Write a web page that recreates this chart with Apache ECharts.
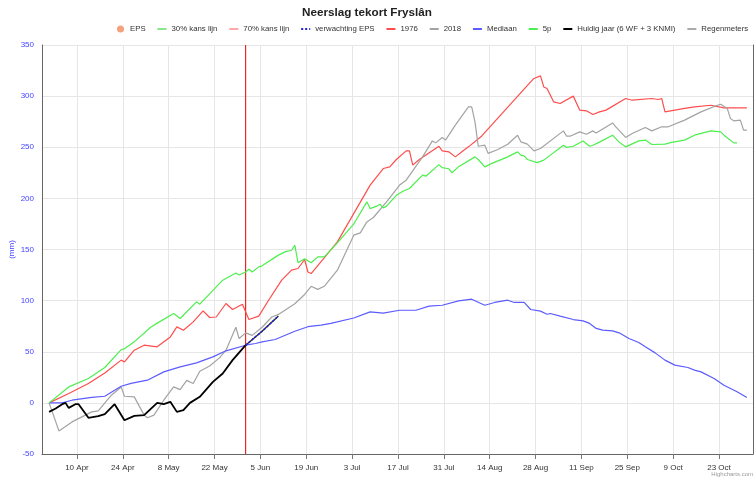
<!DOCTYPE html>
<html><head><meta charset="utf-8">
<script src="https://cdn.jsdelivr.net/npm/echarts@6/dist/echarts.min.js"></script>
<style>html,body{margin:0;padding:0;background:#fff}#c{width:756px;height:478px}</style>
</head><body><div id="c"></div>
<script>
const YEAR = 2023;
const MONTHS = ['Jan','Feb','Mar','Apr','May','Jun','Jul','Aug','Sep','Oct','Nov','Dec'];
const tickDates = ['04-10','04-24','05-08','05-22','06-05','06-19','07-03','07-17','07-31','08-14','08-28','09-11','09-25','10-09','10-23'];
const todayDate = '05-31';

const eps = [];
const kans30 = [];
const kans70 = [];
const regenmeters = [];
const epsForecast = [['05-31',56.4],['06-05',70],['06-10',85]];

const y1976 = [['04-01',0],['04-07',9.2],['04-13',19],['04-18',29.3],['04-23',41.8],['04-24',40],['04-27',51.5],['04-30',56.4],['05-04',54.8],['05-08',64.5],['05-10',74.3],['05-12',71],['05-15',79.2],['05-18',90],['05-20',83.5],['05-22',84],['05-25',97.2],['05-27',91.3],['05-30',96.5],['06-01',81.5],['06-04',84.8],['06-07',100.4],['06-11',120],['06-14',129.8],['06-16',131.4],['06-18',140.2],['06-19',128],['06-20',126.5],['06-28',157.5],['07-08',213],['07-12',229.2],['07-14',230.8],['07-16',238],['07-19',246.5],['07-20',246.5],['07-21',232.5],['07-23',238],['07-29',251],['07-30',246.5],['08-01',245.5],['08-03',240.6],['08-05',245.5],['08-07',250.4],['08-11',260.8],['08-26',314],['08-27',317.3],['08-29',319.8],['08-30',309],['08-31',307.5],['09-02',294.4],['09-04',292.8],['09-08',300],['09-10',286.3],['09-12',285.6],['09-14',282],['09-16',284.6],['09-18',286.3],['09-24',297.7],['09-26',296],['10-02',297.7],['10-04',296.7],['10-05',297.7],['10-06',284.6],['10-12',288],['10-15',289.5],['10-20',291.1],['10-24',288.5],['10-31',288.5]];

const y2018 = [['04-01',0],['04-04',-27.4],['04-08',-18.6],['04-14',-8.8],['04-16',-7.8],['04-20',7.5],['04-23',15.6],['04-24',6.5],['04-27',5.9],['04-30',-12],['05-01',-14.6],['05-03',-12],['05-06',2.6],['05-09',15.6],['05-11',13],['05-13',22],['05-15',19],['05-17',31],['05-20',36],['05-23',44],['05-25',51.5],['05-28',74],['05-29',63],['05-31',68.5],['06-02',66],['06-05',74],['06-08',84],['06-10',86.5],['06-15',97],['06-18',106],['06-20',114],['06-22',111],['06-24',114],['06-28',129.8],['07-03',164],['07-05',166.3],['07-07',177],['07-09',181.3],['07-13',196.6],['07-17',213],['07-19',217.8],['07-24',240.6],['07-27',256.2],['07-28',254.3],['07-30',259.6],['07-31',257],['08-03',271.6],['08-07',289.5],['08-08',289.5],['08-09',274.8],['08-10',251],['08-12',252],['08-13',244],['08-16',247.8],['08-19',253],['08-22',261.8],['08-23',255.3],['08-25',253],['08-27',246.5],['08-29',248.8],['09-05',266],['09-06',260.8],['09-07',260.8],['09-10',265],['09-12',262.7],['09-14',266],['09-15',264],['09-20',273.8],['09-21',270],['09-24',259.6],['09-26',263.5],['09-30',269.3],['10-02',266],['10-05',270],['10-07',270],['10-12',276.5],['10-17',284.6],['10-22',291.1],['10-23',292.1],['10-25',288],['10-26',278],['10-27',275.8],['10-29',276.5],['10-30',266.7],['10-31',266.7]];

const mediaan = [['04-01',0],['04-05',0],['04-08',2.6],['04-14',5.3],['04-18',6.5],['04-23',16.3],['04-26',19],['05-01',22.2],['05-06',30.3],['05-11',35.2],['05-16',39.1],['05-21',45],['05-25',50.9],['05-31',56.4],['06-03',58.1],['06-05',59.7],['06-09',62],['06-15',70],['06-19',74.5],['06-23',76],['06-26',77.7],['07-03',83],['07-08',89],['07-12',87.7],['07-17',90.6],['07-22',90.6],['07-26',94.6],['07-30',95.5],['08-04',99.8],['08-08',101.4],['08-12',95.5],['08-15',98.2],['08-19',100.4],['08-21',98.2],['08-24',98.2],['08-26',91.3],['08-29',89.7],['08-31',86.7],['09-01',87.4],['09-04',84.8],['09-08',81.5],['09-11',80.2],['09-13',77.7],['09-15',72.8],['09-17',71.1],['09-20',70.4],['09-22',68.5],['09-25',63],['09-28',59.1],['09-30',54.8],['10-03',48.9],['10-06',41.8],['10-09',36.9],['10-13',34.6],['10-15',32],['10-17',30.3],['10-21',23.9],['10-24',17.3],['10-28',10.8],['10-31',5.3]];

const p5 = [['04-01',0],['04-07',15.6],['04-13',23.8],['04-18',34.6],['04-23',52],['04-24',53],['04-27',59.7],['05-02',74],['05-04',78],['05-09',87.4],['05-11',82.5],['05-16',98.8],['05-17',96.5],['05-24',120],['05-28',127],['05-29',125],['05-31',128],['06-01',130.7],['06-02',128],['06-04',133],['06-05',134],['06-10',144.5],['06-12',147.7],['06-14',149.3],['06-15',154.2],['06-16',137],['06-18',141],['06-20',137],['06-22',142.8],['06-24',142.8],['06-28',156.5],['07-03',175],['07-07',196.6],['07-08',190],['07-10',192.4],['07-11',194.3],['07-12',190.7],['07-13',192.4],['07-16',203],['07-18',207],['07-20',209.7],['07-24',222.7],['07-25',221.7],['07-29',233],['07-30',230],['08-01',229],['08-02',225],['08-04',231],['08-09',240.6],['08-10',238],['08-12',230.8],['08-14',234],['08-19',240.6],['08-22',245.5],['08-23',242.3],['08-24',241.6],['08-25',238],['08-28',235],['08-30',237.4],['09-05',252],['09-06',249.8],['09-08',251],['09-11',256.2],['09-13',251],['09-14',252],['09-16',255],['09-20',261.8],['09-22',255],['09-24',250.4],['09-28',256.2],['09-30',257],['10-02',252.7],['10-06',253],['10-08',254.7],['10-12',257],['10-15',261.8],['10-20',266],['10-23',265],['10-24',261.8],['10-27',254.3],['10-28',254.3]];

const huidig = [['04-01',-8.8],['04-03',-5.5],['04-05',-1.3],['04-06',0],['04-07',-4.9],['04-09',-1.3],['04-10',-1.3],['04-13',-14.6],['04-16',-13],['04-18',-11],['04-21',-1.3],['04-24',-17],['04-27',-12.7],['04-30',-12],['05-04',0],['05-06',-1.3],['05-08',1],['05-10',-8.8],['05-12',-7.1],['05-14',0],['05-17',5.9],['05-21',20.5],['05-24',28.7],['05-27',41.8],['05-31',56.4]];

const Y_MIN = -50, Y_MAX = 350;

// x is measured in days since 30 March (UTC midnight)
const DAY = 86400000;
const ORIGIN = Date.UTC(YEAR, 2, 30);
function dayNum(md, hour) {
  const p = md.split('-').map(Number);
  return (Date.UTC(YEAR, p[0] - 1, p[1], hour) - ORIGIN) / DAY;
}
const pts = arr => arr.map(r => [dayNum(r[0], 12), r[1]]);
const tickDays = tickDates.map(d => dayNum(d, 0));
const FONT = 'Liberation Sans, Arial, sans-serif';

function lineSeries(name, data, color, width, extra) {
  return Object.assign({
    name, type: 'line', data: pts(data), showSymbol: false, symbol: 'none',
    lineStyle: { color, width }, itemStyle: { color }, emphasis: { disabled: true }
  }, extra || {});
}

const chart = echarts.init(document.getElementById('c'), null, { renderer: 'canvas' });
chart.setOption({
  animation: false,
  backgroundColor: '#fff',
  title: {
    text: 'Neerslag tekort Fryslân', left: 297, top: 2,
    textStyle: { fontSize: 11.7, fontWeight: 'bold', color: '#222', fontFamily: FONT }
  },
  legend: {
    top: 20, left: 112, width: 660, itemWidth: 9, itemHeight: 7, itemGap: 10.9,
    textStyle: { fontSize: 7.8, color: '#333', fontFamily: FONT },
    itemStyle: { opacity: 0 },
    data: [
      { name: 'EPS', icon: 'circle', itemStyle: { opacity: 1 } }, '30% kans lijn', '70% kans lijn', 'verwachting EPS', '1976', '2018',
      'Mediaan', '5p', 'Huidig jaar (6 WF + 3 KNMI)', 'Regenmeters'
    ]
  },
  grid: { left: 42, right: 3, top: 45, bottom: 24, containLabel: false, outerBoundsMode: 'none' },
  xAxis: {
    type: 'value',
    min: 0.33, max: 217.37,
    axisLine: { show: true, onZero: false, lineStyle: { color: '#666', width: 1 } },
    axisTick: { show: true, length: 5, lineStyle: { color: '#777' }, customValues: tickDays },
    axisLabel: {
      customValues: tickDays, fontSize: 8, color: '#333', margin: 10, fontFamily: FONT,
      formatter: v => { const d = new Date(ORIGIN + Math.round(v) * DAY); return d.getUTCDate() + ' ' + MONTHS[d.getUTCMonth()]; }
    },
    splitLine: { show: true, lineStyle: { color: '#e6e6e6', width: 1 } }
  },
  yAxis: [{
    type: 'value', min: Y_MIN, max: Y_MAX, interval: 50,
    name: '(mm)', nameLocation: 'middle', nameGap: 26, nameMoveOverlap: false,
    nameTextStyle: { color: '#4444ff', fontSize: 8, fontFamily: FONT },
    axisLine: { show: true, lineStyle: { color: '#666', width: 1 } },
    axisTick: { show: false },
    axisLabel: { fontSize: 8, color: '#4444ff', margin: 8, fontFamily: FONT },
    splitLine: { show: true, lineStyle: { color: '#e6e6e6', width: 1 } }
  }, {
    type: 'value', min: Y_MIN, max: Y_MAX, interval: 50, position: 'right',
    axisLine: { show: true, lineStyle: { color: '#666', width: 1 } },
    axisTick: { show: false }, axisLabel: { show: false }, splitLine: { show: false }
  }],
  series: [
    {
      name: 'vandaag', type: 'line', z: 1, showSymbol: false, symbol: 'none', silent: true,
      data: [[dayNum(todayDate, 12), Y_MIN], [dayNum(todayDate, 12), Y_MAX]],
      lineStyle: { color: '#e00000', width: 1 }, itemStyle: { color: '#e00000' }
    },
    { name: 'EPS', type: 'scatter', data: eps, itemStyle: { color: '#f5a27c' } },
    lineSeries('30% kans lijn', kans30, '#8ae68a', 1.2),
    lineSeries('70% kans lijn', kans70, '#ffa8a8', 1.2),
    lineSeries('EPS', epsForecast, '#333333', 1.5, { z: 5 }),
    lineSeries('verwachting EPS', epsForecast, '#2020e0', 1.6, { z: 6, lineStyle: { color: '#2020e0', width: 1.6, type: [2, 2] } }),
    lineSeries('1976', y1976, '#ff4d4d', 1.2),
    lineSeries('2018', y2018, '#a3a3a3', 1.2),
    lineSeries('Mediaan', mediaan, '#5c5cff', 1.2),
    lineSeries('5p', p5, '#4def4d', 1.2),
    lineSeries('Huidig jaar (6 WF + 3 KNMI)', huidig, '#000000', 1.8),
    lineSeries('Regenmeters', regenmeters, '#aaaaaa', 1.2)
  ],
  graphic: [{
    type: 'text', right: 3, bottom: 1,
    style: { text: 'Highcharts.com', fontSize: 6, fill: '#999', fontFamily: FONT }
  }]
});
</script>
</body></html>
